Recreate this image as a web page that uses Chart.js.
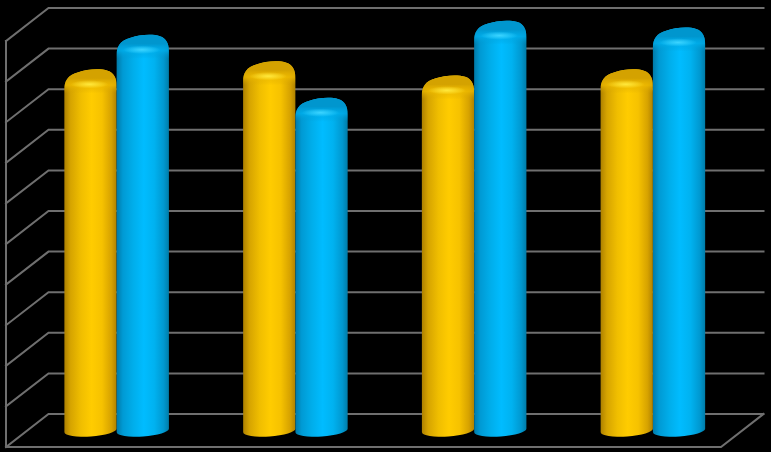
<!DOCTYPE html>
<html><head><meta charset="utf-8">
<style>html,body{margin:0;padding:0;background:#000;overflow:hidden}#w{width:771px;height:452px;position:relative}</style>
<script src="https://cdn.jsdelivr.net/npm/chart.js@4"></script></head>
<body><div id="w"><canvas id="c" width="771" height="452"></canvas></div>
<script>
const categories = ['1', '2', '3', '4'];
const seriesA = [87, 89, 85.5, 87];
const seriesB = [95.5, 80, 99, 97.3];
const yTicks = {min: 0, max: 100, stepSize: 10};
const gridColor = '#6f6f6f';
const depth = {x: 42.5, y: -33};
const palettes = [
  {stops: ['#ad8000', '#d6a400', '#f0be00', '#ffcc00', '#f6c200', '#d6a200', '#b08200'],
   cap: 'rgba(212,162,0,1)', capClear: 'rgba(212,162,0,0)', rim: 'rgba(240,188,0,0.7)', glow: '#ffe83c', glowClear: 'rgba(255,232,60,0)'},
  {stops: ['#007aa8', '#009ad4', '#00aeeb', '#00bcff', '#00b2f0', '#0098d0', '#007ca8'],
   cap: 'rgba(0,150,206,1)', capClear: 'rgba(0,150,206,0)', rim: 'rgba(0,176,238,0.7)', glow: '#3cd4ff', glowClear: 'rgba(60,212,255,0)'}
];
const stopAt = [0, 0.12, 0.32, 0.52, 0.72, 0.9, 1];
function cylinder(ctx, el, pal) {
  const w = el.width, l = el.x - w / 2;
  const dx = depth.x / 2, dy = depth.y / 2;
  const L = l + dx, R = L + w, cx = el.x + dx, top = el.y + dy, bot = el.base + dy;
  const g = ctx.createLinearGradient(L, 0, R, 0);
  pal.stops.forEach((c, i) => g.addColorStop(stopAt[i], c));
  ctx.save();
  ctx.beginPath();
  ctx.moveTo(L, top + 12);
  ctx.bezierCurveTo(L, top + 4, L + 3, top - 2, L + 14, top - 5);
  ctx.bezierCurveTo(L + 22, top - 8, R - 16, top - 9, R - 9, top - 6.5);
  ctx.bezierCurveTo(R - 3, top - 4.5, R, top, R, top + 9);
  ctx.lineTo(R, bot);
  ctx.ellipse(cx, bot, w / 2, 6, -0.07, 0, Math.PI);
  ctx.closePath();
  ctx.fillStyle = g; ctx.fill();
  ctx.clip();
  const cap = ctx.createLinearGradient(0, top - 9, 0, top + 16);
  cap.addColorStop(0, pal.cap); cap.addColorStop(0.4, pal.cap);
  cap.addColorStop(0.68, pal.rim); cap.addColorStop(1, pal.capClear);
  ctx.fillStyle = cap;
  ctx.fillRect(L, top - 10, w, 27);
  ctx.save();
  ctx.translate(cx - 1, top + 7); ctx.scale(1, 0.22);
  const gl = ctx.createRadialGradient(0, 0, 0, 0, 0, w * 0.36);
  gl.addColorStop(0, pal.glow); gl.addColorStop(1, pal.glowClear);
  ctx.fillStyle = gl; ctx.fillRect(-w, -w, 2 * w, 2 * w);
  ctx.restore();
  ctx.restore();
}
const wallPlugin = {
  id: 'wall',
  beforeDatasetsDraw(chart) {
    const {ctx, chartArea: a, scales: {y}} = chart;
    ctx.save();
    ctx.strokeStyle = gridColor; ctx.lineWidth = 2; ctx.lineCap = 'square';
    ctx.beginPath();
    y.ticks.forEach(t => {
      const p = y.getPixelForValue(t.value);
      ctx.moveTo(a.left, p); ctx.lineTo(a.left + depth.x, p + depth.y);
      ctx.lineTo(a.right + depth.x, p + depth.y);
    });
    ctx.moveTo(a.left, a.top); ctx.lineTo(a.left, a.bottom); ctx.lineTo(a.right, a.bottom);
    ctx.lineTo(a.right + depth.x, a.bottom + depth.y);
    ctx.stroke();
    ctx.restore();
  },
  beforeDatasetDraw() { return false; },
  afterDatasetsDraw(chart) {
    const ctx = chart.ctx;
    const n = chart.data.labels.length;
    for (let i = 0; i < n; i++) {
      chart.data.datasets.forEach((d, k) => cylinder(ctx, chart.getDatasetMeta(k).data[i], palettes[k]));
    }
  }
};
new Chart(document.getElementById('c'), {
  type: 'bar',
  data: {labels: categories, datasets: [
    {label: 'A', data: seriesA, backgroundColor: palettes[0].stops[3]},
    {label: 'B', data: seriesB, backgroundColor: palettes[1].stops[3]}
  ]},
  options: {
    responsive: false, animation: false, devicePixelRatio: 1,
    layout: {padding: {left: 6, right: 50, top: 41, bottom: 5}},
    plugins: {legend: {display: false}, tooltip: {enabled: false}},
    scales: {
      x: {display: false, grid: {display: false}},
      y: {display: false, min: yTicks.min, max: yTicks.max, ticks: {stepSize: yTicks.stepSize}, grid: {display: false}}
    },
    datasets: {bar: {categoryPercentage: 0.585, barPercentage: 1}}
  },
  plugins: [wallPlugin]
});
</script></body></html>
